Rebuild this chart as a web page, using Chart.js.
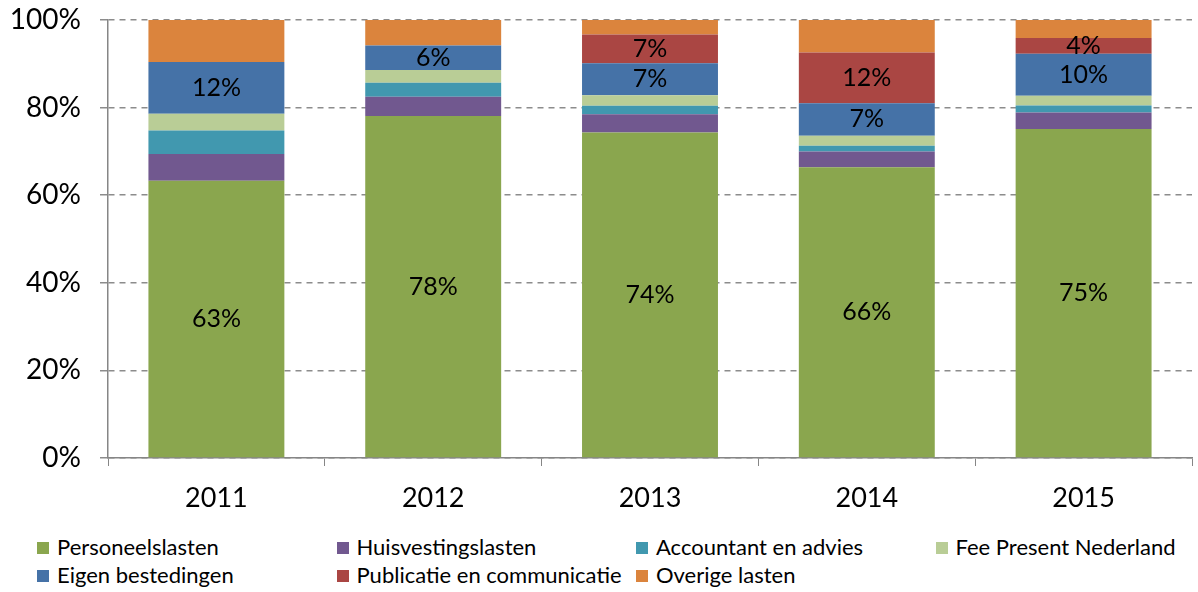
<!DOCTYPE html>
<html>
<head>
<meta charset="utf-8">
<script src="https://cdn.jsdelivr.net/npm/chart.js@4/dist/chart.umd.min.js"></script>
<style>
  body { margin: 0; background: #fff; font-family: Lato, sans-serif; }
  #wrap { position: relative; width: 1198px; height: 592px; }
  #chart { position: absolute; left: 0; top: 0; }
  #legend { position: absolute; left: 37px; top: 533px; width: 1160px; }
  .item { position: absolute; font-size: 22px; color: #000; white-space: nowrap; line-height: 28px; }
  .item span { display: inline-block; width: 12px; height: 12px; margin-right: 8px; vertical-align: 1px; }
</style>
</head>
<body>
<div id="wrap">
  <canvas id="chart" width="1198" height="525"></canvas>
  <div id="legend"></div>
</div>
<script>
var years = ['2011', '2012', '2013', '2014', '2015'];

var personeelslasten = [63.3, 78.1, 74.3, 66.4, 75.1];
var huisvestingslasten = [6.1, 4.4, 4.2, 3.6, 3.8];
var accountantEnAdvies = [5.4, 3.2, 1.9, 1.3, 1.6];
var feePresentNederland = [3.8, 2.9, 2.4, 2.3, 2.2];
var eigenBestedingen = [11.8, 5.6, 7.3, 7.4, 9.6];
var publicatieEnCommunicatie = [0, 0, 6.6, 11.6, 3.6];
var overigeLasten = [9.6, 5.8, 3.3, 7.4, 4.1];

var yTicks = [0, 20, 40, 60, 80, 100];

// labels only on the series that carry them in the original
var datasets = [
  { label: 'Personeelslasten', data: personeelslasten, backgroundColor: '#8AA64E', showLabel: true },
  { label: 'Huisvestingslasten', data: huisvestingslasten, backgroundColor: '#71588F' },
  { label: 'Accountant en advies', data: accountantEnAdvies, backgroundColor: '#4198AF' },
  { label: 'Fee Present Nederland', data: feePresentNederland, backgroundColor: '#B9CD96' },
  { label: 'Eigen bestedingen', data: eigenBestedingen, backgroundColor: '#4572A7', showLabel: true },
  { label: 'Publicatie en communicatie', data: publicatieEnCommunicatie, backgroundColor: '#AA4643', showLabel: true },
  { label: 'Overige lasten', data: overigeLasten, backgroundColor: '#DB843D' }
];

var barLabels = {
  id: 'barLabels',
  afterDatasetsDraw: function(chart) {
    var ctx = chart.ctx;
    ctx.save();
    ctx.font = '25px Lato';
    ctx.fillStyle = '#000';
    ctx.textAlign = 'center';
    ctx.textBaseline = 'middle';
    chart.data.datasets.forEach(function(ds, i) {
      if (!ds.showLabel) return;
      chart.getDatasetMeta(i).data.forEach(function(bar, j) {
        var v = ds.data[j];
        if (!v) return;
        ctx.fillText(Math.round(v) + '%', bar.x, (bar.y + bar.base) / 2);
      });
    });
    ctx.restore();
  }
};

var chart = new Chart(document.getElementById('chart'), {
  type: 'bar',
  data: { labels: years, datasets: datasets },
  plugins: [barLabels],
  options: {
    responsive: false,
    animation: false,
    layout: { padding: { top: 20, right: 6, left: 0, bottom: 0 } },
    plugins: { legend: { display: false }, tooltip: { enabled: false } },
    datasets: { bar: { categoryPercentage: 1, barPercentage: 0.627 } },
    scales: {
      x: {
        stacked: true,
        grid: { offset: true, drawOnChartArea: false, tickLength: 8, color: '#868686' },
        border: { color: '#868686', width: 1.5 },
        ticks: { color: '#000', font: { family: 'Lato', size: 27 }, padding: 16 },
        afterFit: function(scale) { scale.height = 67; scale.paddingLeft = 0; scale.paddingRight = 0; }
      },
      y: {
        stacked: true,
        min: 0,
        max: 100,
        afterBuildTicks: function(scale) { scale.ticks = yTicks.map(function(v) { return { value: v }; }); },
        grid: { color: '#8C8C8C', lineWidth: 1.5, tickLength: 8, drawTicks: true },
        border: { color: '#868686', width: 1.5, dash: [6, 5] },
        ticks: { color: '#000', font: { family: 'Lato', size: 28 }, padding: 19,
          callback: function(v) { return v + '%'; } },
        afterFit: function(scale) { scale.width = 108; scale.paddingTop = 0; scale.paddingBottom = 0; }
      }
    }
  }
});

// legend laid out as a grid like the original
var legend = document.getElementById('legend');
var colW = 299.5;
datasets.forEach(function(ds, i) {
  var el = document.createElement('div');
  el.className = 'item';
  el.style.left = (i % 4) * colW + 'px';
  el.style.top = Math.floor(i / 4) * 28 + 'px';
  el.innerHTML = '<span style="background:' + ds.backgroundColor + '"></span>' + ds.label;
  legend.appendChild(el);
});
</script>
</body>
</html>
